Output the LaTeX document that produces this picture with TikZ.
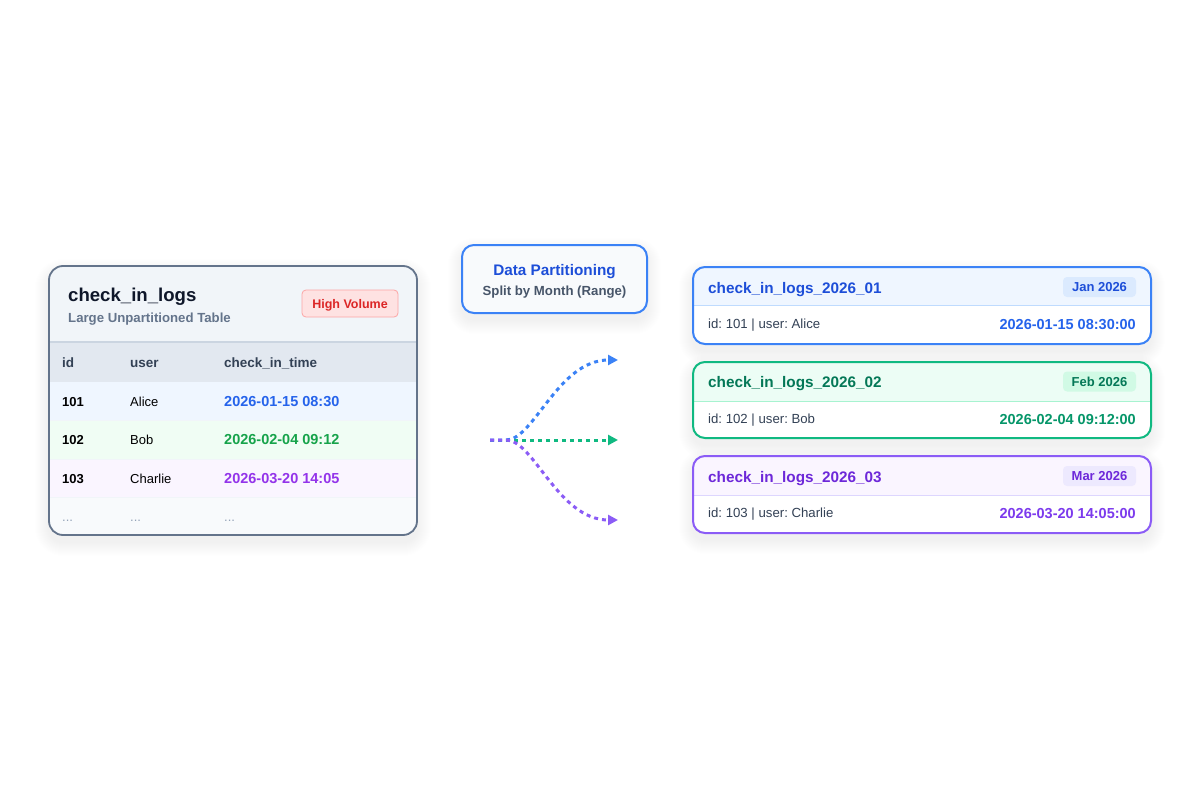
\documentclass[tikz,border=0pt]{standalone}
\usepackage{fontspec}
\setmainfont{Liberation Sans}
\usetikzlibrary{arrows.meta}
\frenchspacing
\definecolor{slateA}{HTML}{0F172A}
\definecolor{slateB}{HTML}{334155}
\definecolor{slateC}{HTML}{475569}
\definecolor{slateD}{HTML}{64748B}
\definecolor{slateE}{HTML}{94A3B8}
\definecolor{slateF}{HTML}{CBD5E1}
\definecolor{slateG}{HTML}{E2E8F0}
\definecolor{slateH}{HTML}{F1F5F9}
\definecolor{slateI}{HTML}{F8FAFC}
\definecolor{bluM}{HTML}{3B82F6}
\definecolor{bluD}{HTML}{2563EB}
\definecolor{bluT}{HTML}{1D4ED8}
\definecolor{bluBg}{HTML}{EFF6FF}
\definecolor{bluBd}{HTML}{DBEAFE}
\definecolor{bluSp}{HTML}{BFDBFE}
\definecolor{grnM}{HTML}{10B981}
\definecolor{grnD}{HTML}{059669}
\definecolor{grnT}{HTML}{047857}
\definecolor{grnBg}{HTML}{ECFDF5}
\definecolor{grnBd}{HTML}{D1FAE5}
\definecolor{grnSp}{HTML}{A7F3D0}
\definecolor{grnTab}{HTML}{16A34A}
\definecolor{grnTabBg}{HTML}{F0FDF4}
\definecolor{purM}{HTML}{8B5CF6}
\definecolor{purD}{HTML}{7C3AED}
\definecolor{purT}{HTML}{6D28D9}
\definecolor{purBg}{HTML}{FAF5FF}
\definecolor{purBd}{HTML}{EDE9FE}
\definecolor{purSp}{HTML}{DDD6FE}
\definecolor{purTab}{HTML}{9333EA}
\definecolor{redBg}{HTML}{FEE2E2}
\definecolor{redBd}{HTML}{FCA5A5}
\definecolor{redT}{HTML}{DC2626}
\newcommand\mysoftshadow[5]{%
  \foreach \k [evaluate=\k as \r using #5+\k] in {1,...,14}
    \fill[black, opacity=0.005, rounded corners=\r pt]
      ({#1-\k},{#2-\k+7}) rectangle ({#3+\k},{#4+\k+7});
}
\tikzset{
  txt/.style={inner sep=0pt, anchor=base west},
  fsm/.style={font=\fontsize{13}{15}\selectfont},
  fsmb/.style={font=\fontsize{13}{15}\selectfont\bfseries},
  fhead/.style={font=\fontsize{13.5}{15}\selectfont\bfseries},
  ftabdate/.style={font=\fontsize{14.5}{17}\selectfont\bfseries},
  fsub/.style={font=\fontsize{13.2}{15}\selectfont\bfseries},
  fbody/.style={font=\fontsize{13.2}{15}\selectfont},
  fdate/.style={font=\fontsize{14.5}{17}\selectfont\bfseries},
  ftitle/.style={font=\fontsize{15.3}{18}\selectfont\bfseries},
  badge/.style={inner sep=0pt, rounded corners=4pt, text height=9.5pt, text depth=0pt,
     font=\fontsize{13}{15}\selectfont\bfseries, align=center},
  flow/.style={line width=3pt, dash pattern=on 4pt off 4pt,
     -{Triangle[length=10pt,width=10pt]}}
}
\begin{document}
\begin{tikzpicture}[x=1pt,y=-1pt]
\useasboundingbox[fill=white] (0,0) rectangle (1200,800);

% ---------- source table ----------
\mysoftshadow{49}{266}{417}{535}{14}
\begin{scope}
  \clip[rounded corners=14pt] (49,266) rectangle (417,535);
  \fill[slateH] (49,266) rectangle (417,342);
  \fill[slateG] (49,342) rectangle (417,382);
  \fill[bluBg] (49,382) rectangle (417,420);
  \fill[grnTabBg] (49,420) rectangle (417,459);
  \fill[purBg] (49,459) rectangle (417,497);
  \fill[slateI] (49,497) rectangle (417,535);
  \draw[slateF, line width=1.5pt] (49,342) -- (417,342);
  \draw[slateH, line width=0.8pt] (49,420) -- (417,420) (49,459) -- (417,459) (49,497) -- (417,497);
\end{scope}
\draw[slateD, line width=1.8pt, rounded corners=14pt] (49,266) rectangle (417,535);

\node[txt, text=slateA, font=\fontsize{18.6}{22}\selectfont\bfseries] (tname) at (68,301.5) {check\_in\_logs};
\node[txt, fsub, text=slateD] (tsub) at (68,322.5) {Large Unpartitioned Table};
\node[badge, fill=redBg, draw=redBd, line width=0.8pt, text=redT, minimum width=96pt, minimum height=27pt, font=\fontsize{12.5}{15}\selectfont\bfseries] (hv) at (350,303.5) {High Volume};

\node[txt, fhead, text=slateB] (hid) at (62,367) {id};
\node[txt, fhead, text=slateB] (huser) at (130,367) {user};
\node[txt, fhead, text=slateB] (htime) at (224,367) {check\_in\_time};

\node[txt, fsmb, text=black] (r1id) at (62,406) {101};
\node[txt, fsm, text=black] (r1u) at (130,406) {Alice};
\node[txt, ftabdate, text=bluD] (r1t) at (224,406) {2026-01-15 08:30};
\node[txt, fsmb, text=black] (r2id) at (62,444.5) {102};
\node[txt, fsm, text=black] (r2u) at (130,444.5) {Bob};
\node[txt, ftabdate, text=grnTab] (r2t) at (224,444.5) {2026-02-04 09:12};
\node[txt, fsmb, text=black] (r3id) at (62,483) {103};
\node[txt, fsm, text=black] (r3u) at (130,483) {Charlie};
\node[txt, ftabdate, text=purTab] (r3t) at (224,483) {2026-03-20 14:05};
\node[txt, fsm, text=slateE] (r4id) at (62,521) {...};
\node[txt, fsm, text=slateE] (r4u) at (130,521) {...};
\node[txt, fsm, text=slateE] (r4t) at (224,521) {...};

% ---------- partition box ----------
\mysoftshadow{462}{245}{647}{313}{12}
\fill[slateI, rounded corners=12pt] (462,245) rectangle (647,313);
\draw[bluM, line width=2pt, rounded corners=12pt] (462,245) rectangle (647,313);
\node[inner sep=0pt, anchor=base, ftitle, text=bluT] (ptitle) at (554.5,275.5) {Data Partitioning};
\node[inner sep=0pt, anchor=base, fsub, text=slateC] (psub) at (554.5,295.5) {Split by Month (Range)};

% ---------- arrows ----------
\coordinate (src) at (490,440);
\coordinate (toJan) at (618,360);
\coordinate (toFeb) at (618,440);
\coordinate (toMar) at (618,520);
\draw[flow, grnM] (src) -- (toFeb);
\draw[flow, bluM] (src) -- ++(16,0) .. controls (534,440) and (558,360) .. (toJan);
\draw[flow, purM] (src) -- ++(16,0) .. controls (534,440) and (558,520) .. (toMar);

% ---------- card 1 ----------
\mysoftshadow{693}{267}{1151}{344}{12}
\begin{scope}
  \clip[rounded corners=12pt] (693,267) rectangle (1151,344);
  \fill[white] (693,267) rectangle (1151,344);
  \fill[bluBg] (693,267) rectangle (1151,305);
  \draw[bluSp, line width=1pt] (693,305) -- (1151,305);
\end{scope}
\draw[bluM, line width=2pt, rounded corners=12pt] (693,267) rectangle (1151,344);
\node[txt, ftitle, text=bluT] (c1t) at (708,293.5) {check\_in\_logs\_2026\_01};
\node[badge, fill=bluBd, text=bluT, minimum width=73pt, minimum height=20pt] (c1b) at (1099.5,287) {Jan 2026};
\node[txt, fbody, text=slateB] (c1r) at (708,328.5) {id: 101 | user: Alice};
\node[inner sep=0pt, anchor=base east, fdate, text=bluD] (c1d) at (1136,329) {2026-01-15 08:30:00};

% ---------- card 2 ----------
\mysoftshadow{693}{362}{1151}{438}{12}
\begin{scope}
  \clip[rounded corners=12pt] (693,362) rectangle (1151,438);
  \fill[white] (693,362) rectangle (1151,438);
  \fill[grnBg] (693,362) rectangle (1151,401);
  \draw[grnSp, line width=1pt] (693,401) -- (1151,401);
\end{scope}
\draw[grnM, line width=2pt, rounded corners=12pt] (693,362) rectangle (1151,438);
\node[txt, ftitle, text=grnT] (c2t) at (708,387.5) {check\_in\_logs\_2026\_02};
\node[badge, fill=grnBd, text=grnT, minimum width=73pt, minimum height=20pt] (c2b) at (1099.5,381.5) {Feb 2026};
\node[txt, fbody, text=slateB] (c2r) at (708,423.5) {id: 102 | user: Bob};
\node[inner sep=0pt, anchor=base east, fdate, text=grnD] (c2d) at (1136,424) {2026-02-04 09:12:00};

% ---------- card 3 ----------
\mysoftshadow{693}{456}{1151}{533}{12}
\begin{scope}
  \clip[rounded corners=12pt] (693,456) rectangle (1151,533);
  \fill[white] (693,456) rectangle (1151,533);
  \fill[purBg] (693,456) rectangle (1151,495);
  \draw[purSp, line width=1pt] (693,495) -- (1151,495);
\end{scope}
\draw[purM, line width=2pt, rounded corners=12pt] (693,456) rectangle (1151,533);
\node[txt, ftitle, text=purT] (c3t) at (708,482.5) {check\_in\_logs\_2026\_03};
\node[badge, fill=purBd, text=purT, minimum width=73pt, minimum height=20pt] (c3b) at (1099.5,476) {Mar 2026};
\node[txt, fbody, text=slateB] (c3r) at (708,517.5) {id: 103 | user: Charlie};
\node[inner sep=0pt, anchor=base east, fdate, text=purD] (c3d) at (1136,518) {2026-03-20 14:05:00};
\end{tikzpicture}
\end{document}
